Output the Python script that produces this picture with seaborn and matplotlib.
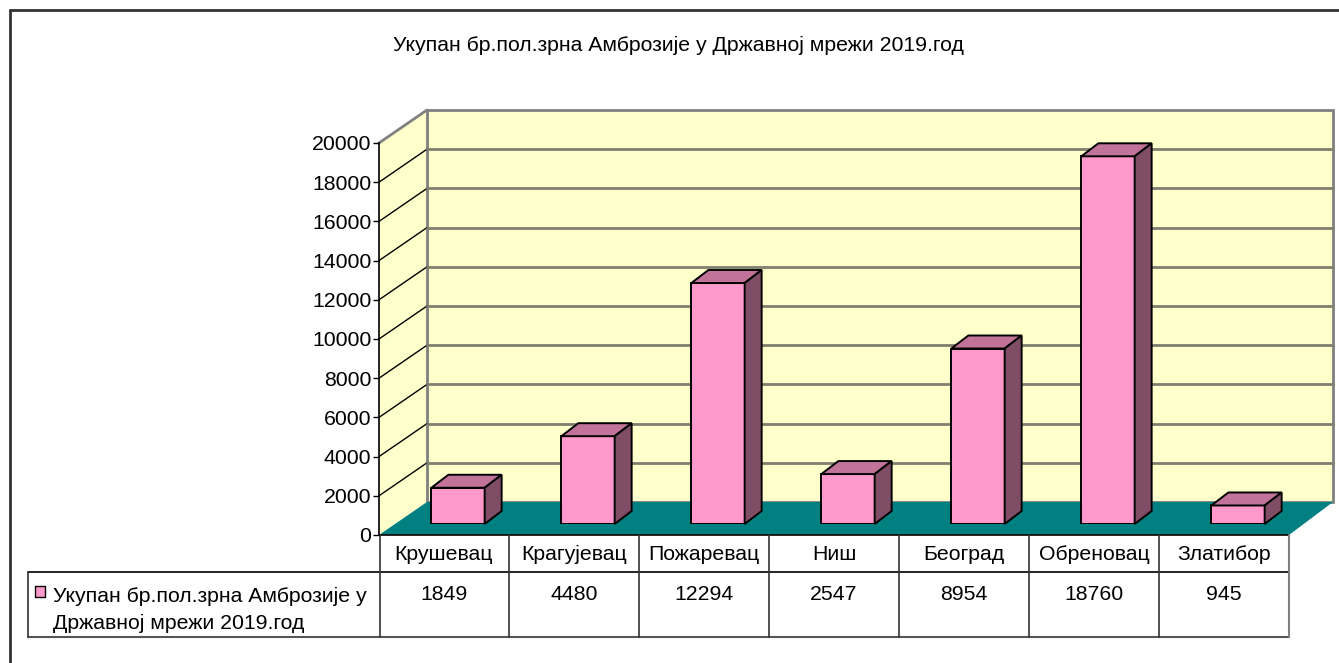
import matplotlib
matplotlib.use("Agg")
import matplotlib.pyplot as plt
from matplotlib.patches import Polygon, Rectangle
import seaborn as sns
import pandas as pd

# ---- data ----
categories = ["Крушевац", "Крагујевац", "Пожаревац", "Ниш", "Београд", "Обреновац", "Златибор"]
values = [1849, 4480, 12294, 2547, 8954, 18760, 945]
series_name = "Укупан бр.пол.зрна Амброзије у Државној мрежи 2019.год"
legend_lines = ["Укупан бр.пол.зрна Амброзије у", "Државној мрежи 2019.год"]
y_ticks = [0, 2000, 4000, 6000, 8000, 10000, 12000, 14000, 16000, 18000, 20000]

sns.set_style("white")
plt.rcParams["font.family"] = ["Liberation Sans", "DejaVu Sans"]

W, H = 1339, 663
fig = plt.figure(figsize=(W / 100, H / 100), dpi=100)

FS = 15.3

# colors
WALL = "#FFFFCC"
FLOOR = "#008080"
BAR = "#FF99CC"
BAR_TOP = "#C27399"
BAR_SIDE = "#804D66"
GRID = "#808080"

# geometry (pixels)
XL, XR = 379, 1289
Y0, YTOP = 535, 143
DX, DY = 48, -33          # wall depth
BX, BY = 14, -11          # bar plane offset
TDX, TDY = 17, -13        # bar depth

def fx(px):
    return px / W

def fy(py):
    return 1 - py / H

# background canvas in pixel coordinates
bg = fig.add_axes([0, 0, 1, 1], zorder=0)
bg.set_xlim(0, W)
bg.set_ylim(H, 0)
bg.axis("off")

# front plane axes (value axis)
ax = fig.add_axes([fx(XL), fy(Y0), (XR - XL) / W, (Y0 - YTOP) / H], zorder=1)
ax.set_xlim(-0.5, len(categories) - 0.5)
ax.set_ylim(0, 20000)
ax.set_yticks(y_ticks)
ax.set_yticklabels([str(v) for v in y_ticks], fontsize=FS)
ax.set_xticks([])
ax.patch.set_visible(False)
for s in ["top", "right", "bottom"]:
    ax.spines[s].set_visible(False)
ax.spines["left"].set_color("black")
ax.spines["left"].set_linewidth(1.2)
ax.tick_params(axis="y", left=True, length=4.5, width=1, color="black", pad=1, labelcolor="black")

# walls and floor
bg.add_patch(Polygon([(XL, Y0), (XL + DX, Y0 + DY), (XL + DX, YTOP + DY), (XL, YTOP)],
                     closed=True, facecolor=WALL, edgecolor="none"))
bg.add_patch(Polygon([(XL + DX, Y0 + DY), (1333, Y0 + DY), (1333, YTOP + DY), (XL + DX, YTOP + DY)],
                     closed=True, facecolor=WALL, edgecolor=GRID, linewidth=2))

# gridlines from tick values
def ypix(v):
    d = ax.transData.transform((0, v))
    return H - d[1]

for v in y_ticks[1:-1]:
    py = ypix(v)
    bg.plot([XL, XL + DX], [py, py + DY], color="black", lw=1)
    bg.plot([XL + DX, 1333], [py + DY, py + DY], color="#7F7F6F", lw=2)
bg.plot([XL, XL + DX], [YTOP, YTOP + DY], color=GRID, lw=2)

bg.add_patch(Polygon([(XL, Y0), (XR, Y0), (1333, Y0 + DY), (XL + DX, Y0 + DY)],
                     closed=True, facecolor=FLOOR, edgecolor="none"))

# bars
axb = fig.add_axes([fx(XL + BX), fy(Y0 + BY), (XR - XL) / W, (Y0 - YTOP) / H], zorder=2)
df = pd.DataFrame({"city": categories, "value": values})
sns.barplot(data=df, x="city", y="value", ax=axb, color=BAR, saturation=1,
            width=0.41, edgecolor="black", linewidth=1.4, errorbar=None)
axb.set_xlim(-0.5, len(categories) - 0.5)
axb.set_ylim(0, 20000)
axb.axis("off")

unit_x = (len(categories)) / (XR - XL)
unit_y = 20000 / (Y0 - YTOP)
ddx = TDX * unit_x
ddy = -TDY * unit_y
for p in list(axb.patches):
    x0, w, h = p.get_x(), p.get_width(), p.get_height()
    top = [(x0, h), (x0 + w, h), (x0 + w + ddx, h + ddy), (x0 + ddx, h + ddy)]
    side = [(x0 + w, 0), (x0 + w + ddx, ddy), (x0 + w + ddx, h + ddy), (x0 + w, h)]
    axb.add_patch(Polygon(top, closed=True, facecolor=BAR_TOP, edgecolor="black",
                          linewidth=1.4, joinstyle="miter", clip_on=False))
    axb.add_patch(Polygon(side, closed=True, facecolor=BAR_SIDE, edgecolor="black",
                          linewidth=1.4, joinstyle="miter", clip_on=False))

# data table
ROW1, ROW2, ROW3 = 535, 572, 637
LEG_L = 28
bg.plot([XL, XR], [ROW1, ROW1], color="black", lw=1.2)
bg.plot([LEG_L, XR], [ROW2, ROW2], color="black", lw=1.2)
bg.plot([LEG_L, XR], [ROW3, ROW3], color="#555555", lw=1.5)
bg.plot([LEG_L, LEG_L], [ROW2, ROW3], color="#333333", lw=1.2)
bg.plot([XL + 1, XL + 1], [ROW1, ROW3], color="#333333", lw=1.2)
for k in range(1, len(categories) + 1):
    xb = ax.transData.transform((k - 0.5, 0))[0]
    col = "#808080" if k == len(categories) else "#333333"
    bg.plot([xb, xb], [ROW1, ROW3], color=col, lw=1.5 if k == len(categories) else 1.2)

for i, (c, v) in enumerate(zip(categories, values)):
    xc = ax.transData.transform((i, 0))[0]
    bg.text(xc, 554, c, ha="center", va="center", fontsize=FS, color="black")
    bg.text(xc, 594, str(v), ha="center", va="center", fontsize=FS, color="black")

bg.add_patch(Rectangle((35, 586), 10, 11, facecolor=BAR, edgecolor="black", lw=1))
bg.text(53, 596, legend_lines[0], ha="left", va="center", fontsize=FS, color="black")
bg.text(53, 623, legend_lines[1], ha="left", va="center", fontsize=FS, color="black")

# outer border
bg.plot([10, W], [10, 10], color="#333333", lw=2)
bg.plot([10, 10], [10, H], color="#333333", lw=2)

# title
fig.text(fx(678), fy(45), series_name, ha="center", va="center", fontsize=FS, color="black")

fig.savefig("out.png", dpi=100)
